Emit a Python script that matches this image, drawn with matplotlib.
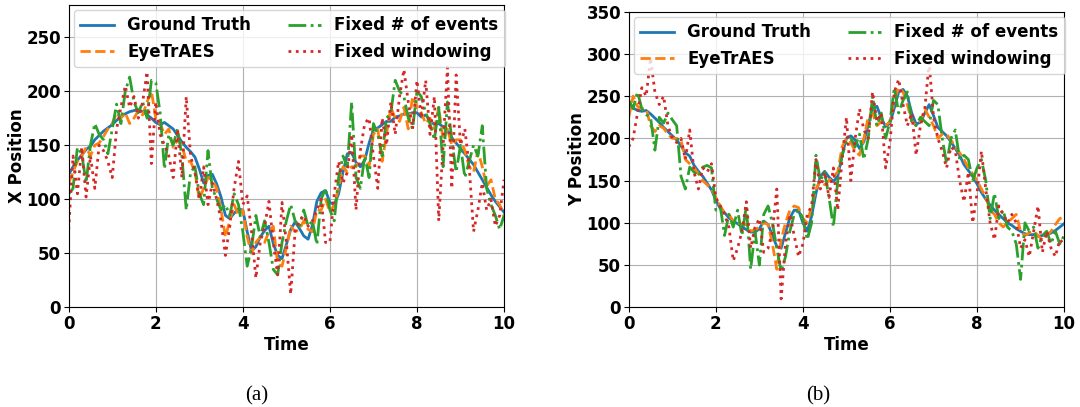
import numpy as np
import matplotlib
matplotlib.use('Agg')
import matplotlib.pyplot as plt

# time stamps (0.1 s steps)
time = np.linspace(0, 10, 101)

# ---- X position (panel a) ----
x_truth = [123, 130, 136, 141, 146, 149, 155, 159, 163, 166,
           169, 173, 176, 179, 181, 182, 183, 181, 178, 175,
           171, 169, 171, 168, 165, 159, 153, 148, 144, 139,
           128, 115, 122, 123, 114, 102, 85, 82, 87, 91,
           90, 70, 52, 56, 65, 71, 75, 59, 48, 45,
           58, 72, 79, 73, 66, 63, 76, 98, 106, 108,
           97, 95, 105, 125, 142, 143, 134, 130, 136, 152,
           164, 166, 169, 172, 172, 176, 177, 179, 179, 180,
           180, 176, 178, 173, 169, 170, 167, 163, 157, 152,
           147, 142, 137, 132, 125, 118, 111, 104, 98, 93,
           88]
x_eyetraes = [115, 125, 135, 140, 148, 140, 150, 152, 158, 165,
              170, 180, 175, 180, 170, 175, 182, 178, 190, 200,
              175, 170, 160, 165, 148, 155, 150, 135, 135, 125,
              100, 110, 120, 118, 110, 90, 65, 80, 95, 85,
              90, 65, 50, 60, 65, 60, 70, 75, 40, 38,
              55, 75, 70, 72, 80, 72, 70, 90, 90, 100,
              88, 95, 110, 130, 125, 130, 130, 140, 140, 130,
              160, 165, 135, 160, 185, 175, 172, 185, 165, 195,
              185, 180, 170, 175, 165, 185, 155, 165, 150, 155,
              155, 145, 130, 125, 145, 130, 112, 118, 100, 95,
              85]
x_fixed_events = [105, 110, 148, 142, 115, 150, 170, 160, 155, 142,
                  165, 188, 170, 200, 213, 190, 180, 190, 175, 210,
                  208, 180, 128, 160, 150, 165, 140, 90, 125, 130,
                  105, 95, 145, 110, 100, 90, 95, 85, 105, 95,
                  70, 38, 55, 85, 65, 80, 60, 35, 30, 60,
                  80, 95, 80, 75, 90, 75, 80, 58, 100, 110,
                  90, 80, 120, 140, 130, 190, 120, 110, 140, 120,
                  170, 160, 140, 175, 180, 210, 200, 195, 175, 165,
                  200, 195, 180, 170, 155, 185, 130, 190, 155, 125,
                  150, 120, 135, 150, 140, 168, 110, 95, 85, 72,
                  85]
x_fixed_window = [72, 140, 105, 148, 102, 140, 110, 150, 145, 135,
                  120, 165, 185, 205, 185, 195, 175, 190, 218, 133,
                  190, 160, 150, 140, 120, 165, 120, 195, 140, 125,
                  100, 130, 95, 115, 100, 80, 48, 75, 110, 135,
                  95, 103, 70, 27, 60, 75, 98, 60, 30, 97,
                  60, 12, 70, 80, 85, 75, 80, 90, 100, 60,
                  60, 105, 135, 115, 125, 160, 90, 145, 170, 175,
                  140, 110, 175, 150, 190, 160, 195, 220, 190, 165,
                  210, 175, 210, 160, 195, 80, 150, 222, 110, 215,
                  150, 165, 130, 70, 90, 115, 90, 100, 75, 85,
                  118]

# ---- Y position (panel b) ----
y_truth = [243, 236, 233, 232, 233, 229, 224, 219, 213, 208,
           203, 198, 191, 183, 179, 168, 161, 155, 147, 139,
           127, 117, 112, 106, 102, 99, 95, 92, 89, 89,
           93, 102, 98, 85, 72, 70, 88, 106, 115, 115,
           100, 90, 108, 135, 155, 161, 154, 149, 155, 180,
           200, 203, 198, 188, 196, 216, 235, 238, 224, 214,
           218, 236, 255, 258, 250, 230, 217, 219, 230, 240,
           227, 213, 208, 203, 196, 188, 180, 169, 162, 155,
           146, 136, 128, 121, 115, 110, 105, 100, 97, 93,
           90, 87, 86, 86, 84, 85, 86, 88, 91, 95,
           99]
y_eyetraes = [225, 250, 238, 235, 235, 215, 208, 215, 212, 205,
              200, 200, 198, 175, 170, 165, 158, 150, 145, 140,
              130, 120, 112, 110, 102, 100, 98, 98, 90, 92,
              95, 100, 98, 75, 45, 80, 100, 115, 120, 118,
              105, 100, 120, 140, 150, 145, 150, 155, 160, 190,
              200, 195, 185, 180, 200, 225, 230, 215, 220, 215,
              220, 245, 260, 255, 240, 220, 215, 220, 235, 225,
              215, 200, 205, 205, 198, 190, 183, 175, 165, 158,
              150, 140, 130, 115, 110, 100, 95, 100, 105, 110,
              90, 85, 88, 90, 85, 80, 85, 90, 98, 105,
              107]
y_fixed_events = [245, 235, 255, 235, 228, 225, 186, 225, 218, 230,
                  222, 215, 155, 140, 166, 160, 155, 166, 168, 165,
                  115, 120, 85, 110, 95, 115, 85, 120, 45, 90,
                  50, 110, 120, 100, 70, 42, 60, 90, 110, 115,
                  105, 80, 100, 180, 150, 160, 130, 95, 150, 180,
                  195, 200, 190, 205, 175, 200, 250, 215, 230, 200,
                  220, 260, 230, 245, 255, 220, 215, 225, 220, 215,
                  245, 240, 200, 170, 200, 210, 175, 180, 175, 150,
                  165, 175, 150, 105, 135, 105, 115, 95, 90, 75,
                  33, 100, 90, 95, 70, 85, 90, 75, 90, 75,
                  85]
y_fixed_window = [190, 200, 230, 260, 250, 295, 255, 240, 250, 215,
                  200, 195, 200, 175, 210, 160, 140, 165, 160, 170,
                  130, 120, 110, 95, 55, 70, 90, 125, 70, 95,
                  105, 65, 70, 90, 140, 10, 75, 110, 85, 60,
                  75, 110, 120, 175, 140, 160, 130, 165, 115, 175,
                  225, 150, 200, 235, 210, 200, 255, 220, 230, 165,
                  195, 255, 270, 240, 215, 230, 180, 215, 235, 290,
                  225, 200, 185, 165, 190, 185, 150, 125, 160, 100,
                  135, 185, 140, 100, 80, 120, 110, 100, 110, 100,
                  70, 80, 60, 90, 120, 65, 90, 70, 60, 80,
                  75]

labels = ['Ground Truth', 'EyeTrAES', 'Fixed # of events', 'Fixed windowing']
styles = [('#1f77b4', '-'), ('#ff7f0e', '--'), ('#2ca02c', '-.'), ('#d62728', ':')]

fig = plt.figure(figsize=(10.8, 4.07), dpi=100)
ax_a = fig.add_axes([0.0636, 0.245, 0.4031, 0.7435])
ax_b = fig.add_axes([0.5822, 0.245, 0.4031, 0.7263])


def draw_panel(ax, series, ylabel, ylim, caption, cap_x):
    for vals, lab, (col, ls) in zip(series, labels, styles):
        ax.plot(time, vals, color=col, linestyle=ls, linewidth=2, label=lab)
    ax.set_xlim(0, 10)
    ax.set_ylim(*ylim)
    ax.set_xticks([0, 2, 4, 6, 8, 10])
    ax.grid(True, color='#b0b0b0', linewidth=0.8)
    ax.set_xlabel('Time', fontsize=12, fontweight='bold', labelpad=2)
    ax.set_ylabel(ylabel, fontsize=12, fontweight='bold', labelpad=0)
    for lbl in ax.get_xticklabels() + ax.get_yticklabels():
        lbl.set_fontweight('bold')
        lbl.set_fontsize(12)
    ax.tick_params(pad=2)
    ax.legend(loc='upper left', ncol=2, prop={'weight': 'bold', 'size': 12},
              handlelength=2.0, columnspacing=2.2, borderaxespad=0.3)
    fig.text(cap_x, 0.027, caption, ha='center', va='center',
             fontsize=15, family='Liberation Serif')


draw_panel(ax_a, [x_truth, x_eyetraes, x_fixed_events, x_fixed_window],
           'X Position', (0, 280), '(a)', 257 / 1080)
ax_a.set_yticks([0, 50, 100, 150, 200, 250])
draw_panel(ax_b, [y_truth, y_eyetraes, y_fixed_events, y_fixed_window],
           'Y Position', (0, 350), '(b)', 818 / 1080)

plt.savefig('out.png', dpi=100)
plt.close()
